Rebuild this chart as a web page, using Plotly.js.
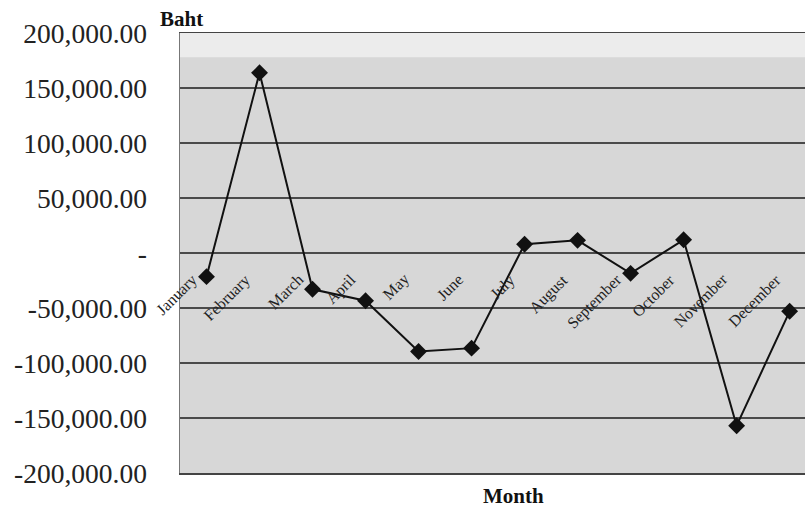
<!DOCTYPE html>
<html>
<head>
<meta charset="utf-8">
<script src="https://cdn.plot.ly/plotly-3.0.1.min.js"></script>
<style>html,body{margin:0;padding:0;background:#fff;}</style>
</head>
<body>
<div id="chart" style="width:805px;height:508px;"></div>
<script>
const months = ["January","February","March","April","May","June","July","August","September","October","November","December"];
const baht = [-21500, 163800, -33000, -43400, -89500, -86500, 8000, 11500, -18500, 12000, -157000, -53000];
const yTickVals = [200000, 150000, 100000, 50000, 0, -50000, -100000, -150000, -200000];
const yTickText = ["200,000.00","150,000.00","100,000.00","50,000.00","-","-50,000.00","-100,000.00","-150,000.00","-200,000.00"];

const serif = "Liberation Serif, Times New Roman, serif";

const monthLabels = months.map(m => ({
  x: m, y: 0, xref: 'x', yref: 'y',
  text: m, showarrow: false, textangle: -45,
  xanchor: 'right', yanchor: 'top', xshift: -3, yshift: -15,
  font: {family: serif, size: 16, color: '#222'}
}));

const trace = {
  x: months, y: baht, type: 'scatter', mode: 'lines+markers',
  line: {color: '#111', width: 2},
  marker: {symbol: 'diamond', size: 13, color: '#111'},
  cliponaxis: false,
  hoverinfo: 'x+y'
};

const layout = {
  width: 805, height: 508,
  margin: {l: 180, r: 0, t: 33, b: 35},
  paper_bgcolor: '#ffffff',
  plot_bgcolor: '#d7d7d7',
  showlegend: false,
  xaxis: {
    type: 'category', categoryarray: months,
    range: [-0.5, 11.29],
    showticklabels: false, showgrid: false, zeroline: false,
    showline: true, mirror: true, linecolor: '#444', linewidth: 1.5,
    ticks: ''
  },
  yaxis: {
    range: [-200000, 200000],
    tickvals: yTickVals, ticktext: yTickText,
    showgrid: true, gridcolor: '#4a4a4a', gridwidth: 1.5,
    zeroline: true, zerolinecolor: '#4a4a4a', zerolinewidth: 1.5,
    showline: true, linecolor: '#777', linewidth: 1.5,
    ticks: '', ticklabelstandoff: 26,
    tickfont: {family: serif, size: 27.5, color: '#222'}
  },
  shapes: [{
    type: 'rect', xref: 'paper', yref: 'y', x0: 0, x1: 1, y0: 178000, y1: 200000,
    fillcolor: '#ececec', line: {width: 0}, layer: 'below'
  }],
  annotations: monthLabels.concat([
    {text: '<b>Baht</b>', xref: 'paper', yref: 'paper', x: -0.0352, y: 1,
     xanchor: 'left', yanchor: 'bottom', showarrow: false,
     font: {family: serif, size: 21, color: '#111'}},
    {text: '<b>Month</b>', xref: 'paper', yref: 'paper', x: 0.533, y: 0,
     xanchor: 'center', yanchor: 'top', yshift: -10, borderpad: 0, showarrow: false,
     font: {family: serif, size: 21, color: '#111'}}
  ])
};

Plotly.newPlot('chart', [trace], layout, {displayModeBar: false, staticPlot: true});
</script>
</body>
</html>
